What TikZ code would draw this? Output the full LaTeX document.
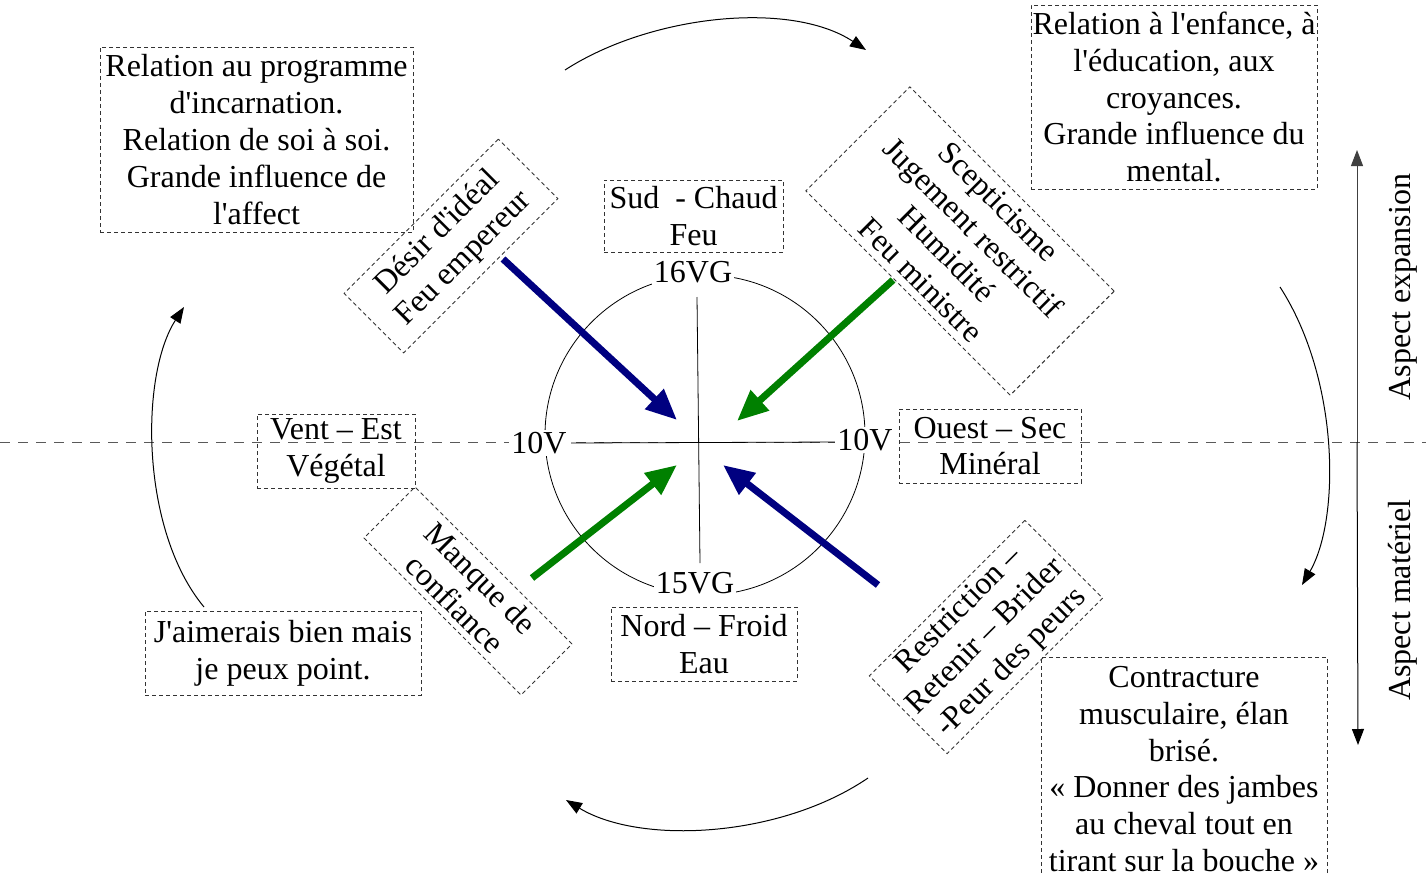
\documentclass[tikz,border=0pt]{standalone}
\usepackage{fontspec}
\setmainfont{Liberation Serif}[Ligatures=TeXOff]
\usetikzlibrary{arrows.meta}
\definecolor{navyb}{RGB}{0,0,128}
\definecolor{grn}{RGB}{0,128,0}
\tikzset{
  lbl/.style={font=\fontsize{32}{36.8}\selectfont, align=center, inner sep=0pt},
  dbox/.style={lbl, draw=black!80, dash pattern=on 4pt off 3pt, line width=0.9pt},
  wlbl/.style={lbl, fill=white, inner sep=2pt},
  thick arrow/.style={line width=7pt, -{Triangle[length=31pt,width=26pt]}},
  thin arrow/.style={line width=1pt, -{Triangle[length=16pt,width=12pt]}},
}
\begin{document}
\begin{tikzpicture}[x=1pt,y=-1pt]
\useasboundingbox (0,0) rectangle (1426,875);

% horizontal dashed axis
\coordinate (axl) at (0,442);
\coordinate (axr) at (1426,442);
\draw[black!65, line width=1pt, dash pattern=on 10pt off 8pt] (axl) -- (axr);

% circle and cross
\node[circle, draw, line width=0.8pt, minimum size=320pt, inner sep=0pt] (circ) at (705,435) {};
\coordinate (vt) at (697,297);
\coordinate (vb) at (700,563);
\coordinate (hl) at (571,443);
\coordinate (hr) at (837,442);
\draw[line width=0.8pt] (vt) -- (vb);
\draw[line width=0.8pt] (hl) -- (hr);

\node[wlbl] (n16) at (693,272) {16VG};
\node[wlbl] (n15) at (695,583) {15VG};
\node[wlbl] (n10l) at (539,443) {10V};
\node[wlbl] (n10r) at (865,440) {10V};

% thick arrows
\coordinate (b1s) at (503,259); \coordinate (b1e) at (677,420);
\coordinate (g1s) at (893,280); \coordinate (g1e) at (737,421);
\coordinate (g2s) at (532,578); \coordinate (g2e) at (677,465);
\coordinate (b2s) at (878,585); \coordinate (b2e) at (723,465);
\draw[thick arrow, navyb] (b1s) -- (b1e);
\draw[thick arrow, grn] (g1s) -- (g1e);
\draw[thick arrow, grn] (g2s) -- (g2e);
\draw[thick arrow, navyb] (b2s) -- (b2e);

% cardinal boxes
\node[dbox, minimum width=179pt, minimum height=72pt] (sud) at (693.5,216) {Sud~ - Chaud\\Feu};
\node[dbox, minimum width=158pt, minimum height=74pt] (est) at (336,451) {Vent – Est\\Végétal};
\node[dbox, minimum width=182pt, minimum height=74pt] (ouest) at (990,446) {Ouest – Sec\\Minéral};
\node[dbox, minimum width=186pt, minimum height=74pt] (nord) at (704,644) {Nord – Froid\\Eau};

% corner boxes
\node[dbox, minimum width=313pt, minimum height=185pt] (affect) at (256.5,139.5)
  {Relation au programme\\d'incarnation.\\Relation de soi à soi.\\Grande influence de\\l'affect};
\node[dbox, minimum width=286pt, minimum height=184pt] (mental) at (1174,97)
  {Relation à l'enfance, à\\l'éducation, aux\\croyances.\\Grande influence du\\mental.};
\node[dbox, minimum width=276pt, minimum height=84pt] (point) at (283,653)
  {J'aimerais bien mais\\je peux point.};
\node[dbox, minimum width=286pt, minimum height=224pt] (contr) at (1184,769)
  {Contracture\\musculaire, élan\\brisé.\\« Donner des jambes\\au cheval tout en\\tirant sur la bouche »};

% rotated boxes
\node[dbox, rotate=45, minimum width=218pt, minimum height=84pt] (desir) at (451,246)
  {Désir d'idéal\\Feu empereur};
\node[dbox, rotate=-45, minimum width=289pt, minimum height=147pt] (scep) at (960,241)
  {Scepticisme\\Jugement restrictif\\Humidité\\Feu ministre};
\node[dbox, rotate=-45, minimum width=222pt, minimum height=72pt] (manque) at (468,591)
  {Manque de\\confiance};
\node[dbox, rotate=45, minimum width=220pt, minimum height=110pt] (restr) at (986,637)
  {Restriction –\\Retenir – Brider\\-Peur des peurs};

% cycle arrows
\coordinate (ts) at (565,70);  \coordinate (te) at (866,50);
\coordinate (rs) at (1280,287); \coordinate (re) at (1302,585);
\coordinate (bs) at (868,778); \coordinate (be) at (566,800);
\coordinate (ls) at (204,607); \coordinate (le) at (184,307);
\draw[thin arrow] (ts) .. controls (650,15) and (790,0) .. (te);
\draw[thin arrow] (rs) .. controls (1340,380) and (1340,520) .. (re);
\draw[thin arrow] (bs) .. controls (780,838) and (640,845) .. (be);
\draw[thin arrow] (ls) .. controls (140,530) and (140,375) .. (le);

% vertical aspect arrows
\coordinate (vmid) at (1357,442);
\coordinate (vtop) at (1357,150);
\coordinate (vbot) at (1358,745);
\draw[thin arrow, black!75] (vmid) -- (vtop);
\draw[thin arrow] (vmid) -- (vbot);
\node[lbl, rotate=90] (expa) at (1403,287) {Aspect expansion};
\node[lbl, rotate=90] (mate) at (1403,600) {Aspect matériel};
\end{tikzpicture}
\end{document}
